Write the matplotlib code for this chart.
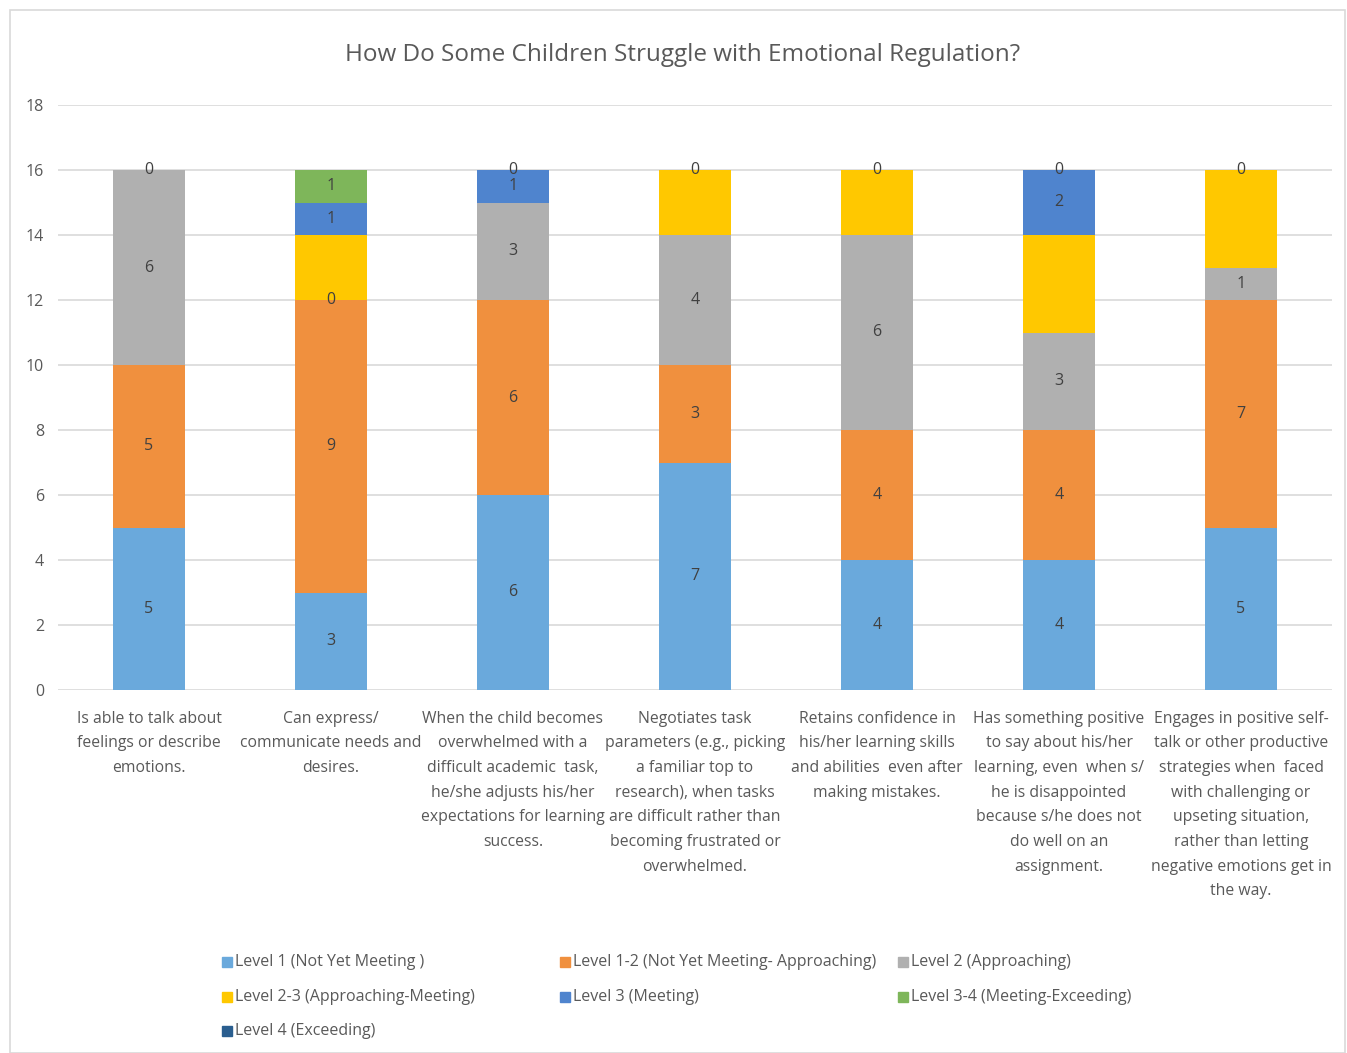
import numpy as np
import matplotlib.pyplot as plt
from matplotlib.patches import Rectangle

plt.rcParams['font.family'] = ['Open Sans', 'DejaVu Sans']

categories = [
    "Is able to talk about\nfeelings or describe\nemotions.",
    "Can express/\ncommunicate needs and\ndesires.",
    "When the child becomes\noverwhelmed with a\ndifficult academic  task,\nhe/she adjusts his/her\nexpectations for learning\nsuccess.",
    "Negotiates task\nparameters (e.g., picking\na familiar top to\nresearch), when tasks\nare difficult rather than\nbecoming frustrated or\noverwhelmed.",
    "Retains confidence in\nhis/her learning skills\nand abilities  even after\nmaking mistakes.",
    "Has something positive\nto say about his/her\nlearning, even  when s/\nhe is disappointed\nbecause s/he does not\ndo well on an\nassignment.",
    "Engages in positive self-\ntalk or other productive\nstrategies when  faced\nwith challenging or\nupseting situation,\nrather than letting\nnegative emotions get in\nthe way.",
]

series_names = [
    "Level 1 (Not Yet Meeting )",
    "Level 1-2 (Not Yet Meeting- Approaching)",
    "Level 2 (Approaching)",
    "Level 2-3 (Approaching-Meeting)",
    "Level 3 (Meeting)",
    "Level 3-4 (Meeting-Exceeding)",
    "Level 4 (Exceeding)",
]

level1 = [5, 3, 6, 7, 4, 4, 5]
level1_2 = [5, 9, 6, 3, 4, 4, 7]
level2 = [6, 0, 3, 4, 6, 3, 1]
level2_3 = [0, 2, 0, 2, 2, 3, 3]
level3 = [0, 1, 1, 0, 0, 2, 0]
level3_4 = [0, 1, 0, 0, 0, 0, 0]
level4 = [0, 0, 0, 0, 0, 0, 0]

series = [level1, level1_2, level2, level2_3, level3, level3_4, level4]
colors = ['#6AA9DC', '#F0903E', '#B0B0B0', '#FFC800', '#4F84CE', '#7EB65A', '#2A5E8F']
labelled = [True, True, True, False, True, True, False]

fig = plt.figure(figsize=(13.47, 10.53), dpi=100)
fig.patches.append(Rectangle((10/1347, 0), 1335/1347, 1 - 10/1053, transform=fig.transFigure,
                             fill=False, edgecolor='#D9D9D9', lw=1.2))
ax = fig.add_axes([58/1347, 1 - 690/1053, 1274/1347, 585/1053])

x = np.arange(len(categories))
bottom = np.zeros(len(categories))
done = set()
for vals, col, lab, name in zip(series, colors, labelled, series_names):
    vals = np.array(vals, dtype=float)
    ax.bar(x, vals, 0.4, bottom=bottom, color=col, label=name, zorder=2)
    if lab:
        for xi, b, v in zip(x, bottom, vals):
            pos = (xi, b + v / 2)
            if pos in done:
                continue
            done.add(pos)
            ax.text(xi, b + v / 2, f"{int(v)}", ha='center', va='center',
                    fontsize=11.5, color='#404040', zorder=3)
    bottom += vals

ax.set_xlim(-0.5, len(categories) - 0.5)
ax.set_ylim(0, 18)
ax.set_yticks(range(0, 19, 2))
ax.yaxis.grid(True, color='#D9D9D9', lw=1.2, zorder=0)
ax.set_axisbelow(True)
for s in ax.spines.values():
    s.set_visible(False)
ax.tick_params(axis='both', length=0, colors='#595959', labelsize=11.5)
ax.tick_params(axis='y', pad=10)
ax.set_xticks(x)
ax.set_xticklabels(categories, fontsize=11.3, color='#595959', linespacing=1.72, va='top')
ax.tick_params(axis='x', pad=15)

fig.text(683/1347, 1 - 55/1053, "How Do Some Children Struggle with Emotional Regulation?",
         ha='center', va='center', fontsize=17.5, color='#595959')

# legend, laid out row by row like the original
leg_x = [222, 560, 898]
leg_y = [962, 997, 1031]
for i, (name, col) in enumerate(zip(series_names, colors)):
    px = leg_x[i % 3]
    py = leg_y[i // 3]
    fig.patches.append(Rectangle((px/1347, 1 - (py + 5)/1053), 10/1347, 10/1053,
                                 transform=fig.transFigure, color=col))
    fig.text((px + 13)/1347, 1 - py/1053, name, ha='left', va='center',
             fontsize=11.5, color='#595959')

fig.savefig('out.png', dpi=100, facecolor='white')
